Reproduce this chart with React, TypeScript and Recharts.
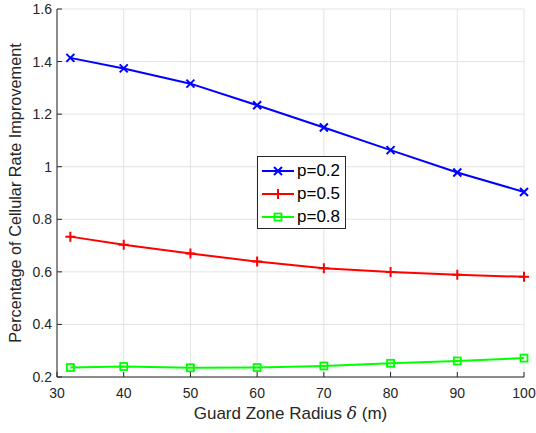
import React from 'react';
import {
  LineChart, Line, XAxis, YAxis, CartesianGrid, Legend,
} from 'recharts';

// 横軸: ガードゾーン半径 (m)
const radius = [32, 40, 50, 60, 70, 80, 90, 100];
// 各系列の値
const p02 = [1.414, 1.374, 1.316, 1.234, 1.149, 1.063, 0.978, 0.904];
const p05 = [0.734, 0.703, 0.670, 0.639, 0.614, 0.599, 0.589, 0.581];
const p08 = [0.236, 0.240, 0.235, 0.236, 0.242, 0.252, 0.261, 0.272];
// 目盛り
const xTicks = [30, 40, 50, 60, 70, 80, 90, 100];
const yTicks = [0.2, 0.4, 0.6, 0.8, 1, 1.2, 1.4, 1.6];

const data = radius.map((r, i) => ({ r, a: p02[i], b: p05[i], c: p08[i] }));

const FONT = '"Liberation Sans", Arial, Helvetica, sans-serif';
const AXIS = '#262626';

// マーカー
const Cross = ({ cx, cy, color, s = 4 }: any) => (
  <path d={`M${cx - s},${cy - s}L${cx + s},${cy + s}M${cx - s},${cy + s}L${cx + s},${cy - s}`}
    stroke={color} strokeWidth={2} fill="none" />
);
const Plus = ({ cx, cy, color, s = 5 }: any) => (
  <path d={`M${cx - s},${cy}L${cx + s},${cy}M${cx},${cy - s}L${cx},${cy + s}`}
    stroke={color} strokeWidth={2} fill="none" />
);
const Square = ({ cx, cy, color, s = 3.5 }: any) => (
  <rect x={cx - s} y={cy - s} width={2 * s} height={2 * s}
    stroke={color} strokeWidth={1.8} fill="none" />
);

const series = [
  { key: 'a', name: 'p=0.2', color: '#0000ff', Marker: Cross },
  { key: 'b', name: 'p=0.5', color: '#ff0000', Marker: Plus },
  { key: 'c', name: 'p=0.8', color: '#00ff00', Marker: Square },
];

const LegendBox = () => (
  <div style={{
    position: 'relative', border: '1px solid #262626', background: '#fff', width: 89, height: 73,
    boxSizing: 'border-box', fontFamily: FONT, fontSize: 17, color: '#000',
  }}>
    {series.map((s, i) => (
      <div key={s.key} style={{ position: 'absolute', left: 0, top: 4 + i * 23, display: 'flex', alignItems: 'center', height: 20 }}>
        <svg width={38} height={20} style={{ display: 'block' }}>
          <line x1={4} y1={10} x2={36} y2={10} stroke={s.color} strokeWidth={2} />
          <s.Marker cx={20} cy={10} color={s.color} />
        </svg>
        <span style={{ marginLeft: 1 }}>{s.name}</span>
      </div>
    ))}
  </div>
);

// 横軸ラベル (δ は斜体)
const XLabel = ({ viewBox }: any) => (
  <text x={viewBox.x + viewBox.width / 2} y={viewBox.y + 42} textAnchor="middle"
    fill={AXIS} fontSize={17} fontFamily={FONT}>
    Guard Zone Radius <tspan fontStyle="italic" fontFamily="'DejaVu Serif', serif">δ</tspan> (m)
  </text>
);

export default function App() {
  return (
    <div style={{ position: 'absolute', left: 0, top: 0, background: '#fff' }}>
      <LineChart width={536} height={433} data={data}
        margin={{ top: 9, right: 12, left: 0, bottom: 0 }}>
        <CartesianGrid stroke="#e3e3e3" strokeWidth={1} />
        <XAxis type="number" dataKey="r" domain={[30, 100]} ticks={xTicks}
          height={56} tickSize={-5} tickMargin={16}
          stroke={AXIS} tick={{ fill: AXIS, fontSize: 14, fontFamily: FONT }}
          label={<XLabel />} />
        <YAxis type="number" domain={[0.2, 1.6]} ticks={yTicks} width={57}
          tickSize={-5} tickMargin={10} tickFormatter={(v: number) => String(Math.round(v * 10) / 10)}
          stroke={AXIS} tick={{ fill: AXIS, fontSize: 14, fontFamily: FONT }}
          label={{ value: 'Percentage of Cellular Rate Improvement', angle: -90,
            position: 'insideLeft', offset: 15, style: { textAnchor: 'middle' },
            fill: AXIS, fontSize: 16.3, fontFamily: FONT }} />
        {series.map((s) => (
          <Line key={s.key} dataKey={s.key} name={s.name} stroke={s.color} strokeWidth={2}
            isAnimationActive={false}
            dot={(p: any) => <s.Marker key={`${s.key}-${p.index}`} cx={p.cx} cy={p.cy} color={s.color} />}
            activeDot={false} />
        ))}
        <Legend content={<LegendBox />} layout="vertical" align="center" verticalAlign="middle"
          wrapperStyle={{ position: 'absolute', left: 257, top: 156, width: 89, height: 73 }} />
      </LineChart>
    </div>
  );
}
